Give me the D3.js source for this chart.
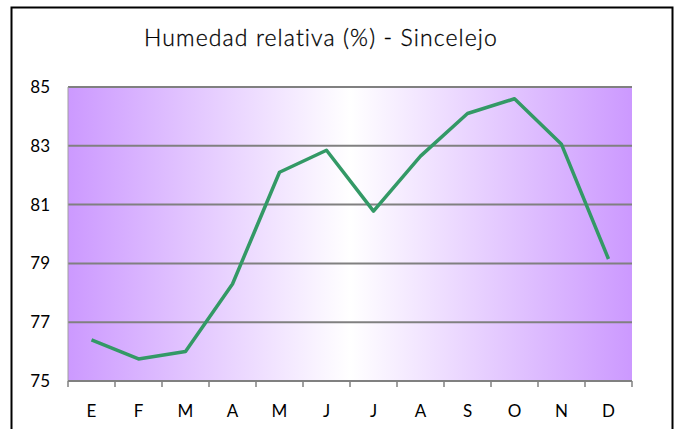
<!DOCTYPE html>
<html>
<head>
<meta charset="utf-8">
<script src="https://cdn.jsdelivr.net/npm/d3@7"></script>
<style>
  body { margin: 0; background: #fff; }
  text { font-family: Lato, "Open Sans", sans-serif; fill: #000; }
</style>
</head>
<body>
<div id="chart"></div>
<script>
const months = ["E", "F", "M", "A", "M", "J", "J", "A", "S", "O", "N", "D"];
const humidity = [76.4, 75.75, 76.0, 78.3, 82.1, 82.85, 80.78, 82.65, 84.1, 84.6, 83.05, 79.15];
const yTicks = [75, 77, 79, 81, 83, 85];
const title = "Humedad relativa (%) - Sincelejo";

const svgWidth = 678;
const svgHeight = 429;

const margin = { top: 87, right: 46, bottom: 48, left: 68 };
const width = svgWidth - margin.left - margin.right;
const height = svgHeight - margin.top - margin.bottom;

const svg = d3.select("#chart")
  .append("svg")
  .attr("width", svgWidth)
  .attr("height", svgHeight);

// outer chart border (bottom edge runs off the picture)
svg.append("rect")
  .attr("x", 11.5)
  .attr("y", 7.5)
  .attr("width", 661)
  .attr("height", 440)
  .attr("fill", "#fff")
  .attr("stroke", "#000")
  .attr("stroke-width", 2);

const defs = svg.append("defs");
const grad = defs.append("linearGradient")
  .attr("id", "bg")
  .attr("x1", "0%").attr("x2", "100%")
  .attr("y1", "0%").attr("y2", "0%");
grad.append("stop").attr("offset", "0%").attr("stop-color", "#cc99ff");
grad.append("stop").attr("offset", "50%").attr("stop-color", "#ffffff");
grad.append("stop").attr("offset", "100%").attr("stop-color", "#cc99ff");

svg.append("text")
  .attr("x", 321)
  .attr("y", 46)
  .attr("text-anchor", "middle")
  .attr("font-size", 23)
  .attr("font-weight", 300)
  .attr("letter-spacing", 1.1)
  .attr("stroke", "#000")
  .attr("stroke-width", 0.3)
  .text(title);

const chartGroup = svg.append("g")
  .attr("transform", `translate(${margin.left}, ${margin.top})`);

const xScale = d3.scaleBand()
  .domain(d3.range(months.length))
  .range([0, width]);

const yScale = d3.scaleLinear()
  .domain([75, 85])
  .range([height, 0]);

chartGroup.append("rect")
  .attr("width", width)
  .attr("height", height)
  .attr("fill", "url(#bg)");

// gridlines
chartGroup.selectAll(".grid")
  .data(yTicks.slice(1))
  .enter()
  .append("line")
  .attr("x1", 0)
  .attr("x2", width)
  .attr("y1", d => yScale(d))
  .attr("y2", d => yScale(d))
  .attr("stroke", "#808080")
  .attr("stroke-width", 2);

// left axis line
chartGroup.append("line")
  .attr("x1", 0).attr("x2", 0)
  .attr("y1", 0).attr("y2", height)
  .attr("stroke", "#a0a0a0")
  .attr("stroke-width", 1);

// bottom axis with ticks at category boundaries
chartGroup.append("line")
  .attr("x1", 0).attr("x2", width)
  .attr("y1", height).attr("y2", height)
  .attr("stroke", "#808080")
  .attr("stroke-width", 2);

chartGroup.selectAll(".xtick")
  .data(d3.range(months.length + 1))
  .enter()
  .append("line")
  .attr("x1", d => d * xScale.bandwidth())
  .attr("x2", d => d * xScale.bandwidth())
  .attr("y1", height)
  .attr("y2", height + 6)
  .attr("stroke", "#808080")
  .attr("stroke-width", 1.5);

// y tick labels
chartGroup.selectAll(".ylab")
  .data(yTicks)
  .enter()
  .append("text")
  .attr("x", -18)
  .attr("y", d => yScale(d) + 6)
  .attr("text-anchor", "end")
  .attr("font-size", 17)
  .text(d => d);

// x tick labels
chartGroup.selectAll(".xlab")
  .data(months)
  .enter()
  .append("text")
  .attr("x", (d, i) => xScale(i) + xScale.bandwidth() / 2)
  .attr("y", height + 36)
  .attr("text-anchor", "middle")
  .attr("font-size", 17)
  .text(d => d);

const line = d3.line()
  .x((d, i) => xScale(i) + xScale.bandwidth() / 2)
  .y(d => yScale(d));

chartGroup.append("path")
  .datum(humidity)
  .attr("d", line)
  .attr("fill", "none")
  .attr("stroke", "#339966")
  .attr("stroke-width", 3.5)
  .attr("stroke-linejoin", "round");
</script>
</body>
</html>
